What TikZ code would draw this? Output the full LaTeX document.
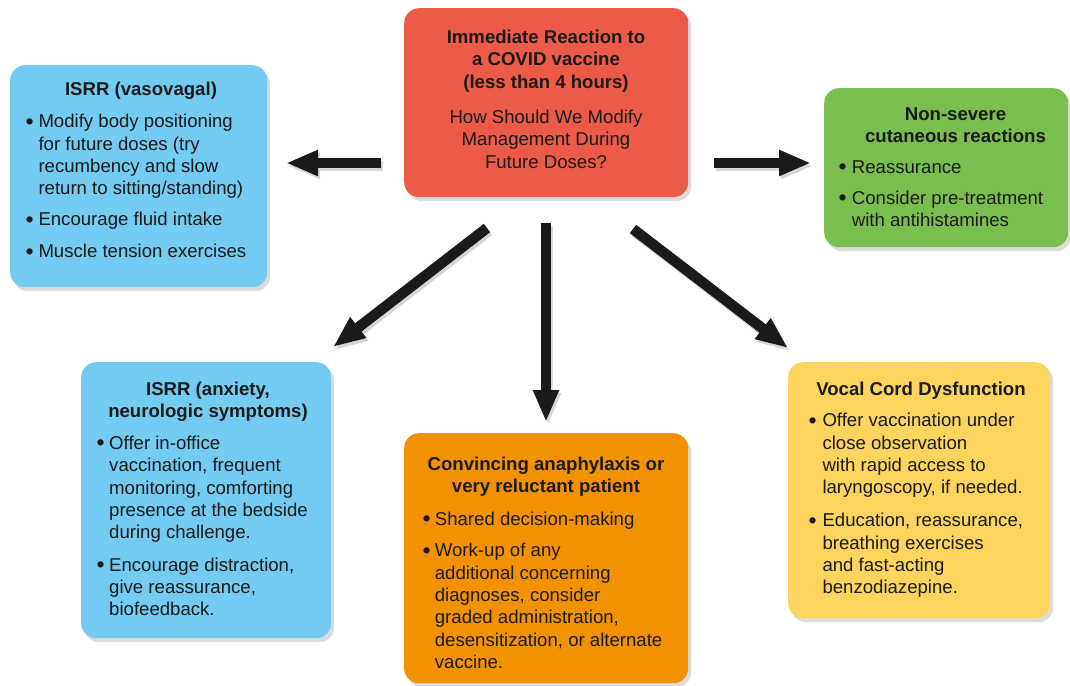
\documentclass[tikz,border=0pt]{standalone}
\usepackage{fontspec}
\setmainfont{Liberation Sans}
\usetikzlibrary{arrows.meta,shadows}
\definecolor{cred}{HTML}{EB5B47}
\definecolor{cblue}{HTML}{74CBF1}
\definecolor{cgreen}{HTML}{7BBE50}
\definecolor{corange}{HTML}{F29200}
\definecolor{cyellow}{HTML}{FDD55E}
\definecolor{ink}{HTML}{1A1A1A}
\newcommand{\fs}{\fontsize{18.6}{22.4}\selectfont}
\newcommand{\bul}{{\fontsize{23}{23}\selectfont\raisebox{-1.6pt}{•}}}
\newcommand{\ctext}[1]{\parbox[t]{300pt}{\centering\fs #1}}
\newcommand{\ltext}[1]{\parbox[t]{300pt}{\raggedright\fs #1}}
\begin{document}
\begin{tikzpicture}[x=1pt,y=-1pt,
  box/.style={rectangle, rounded corners=15pt, anchor=north west, inner sep=0pt, draw=none,
    drop shadow={shadow xshift=3pt,shadow yshift=-4pt,opacity=.28}},
  ttl/.style={anchor=base, inner sep=0pt, text=ink, font=\bfseries},
  ctr/.style={anchor=base, inner sep=0pt, text=ink},
  txt/.style={anchor=base west, inner sep=0pt, text=ink},
  bigarrow/.style={line width=10.5pt, draw=ink, -{Triangle[length=32pt,width=24pt]}},
  arrowsh/.style={line width=10.5pt, draw=black!16, -{Triangle[length=32pt,width=24pt]}}]
\useasboundingbox (0,0) rectangle (1070,685);

% boxes
\node[box, fill=cred, minimum width=284pt, minimum height=189pt] (react) at (404,8) {};
\node[box, fill=cblue, minimum width=257pt, minimum height=222pt] (vaso) at (10,65) {};
\node[box, fill=cgreen, minimum width=244pt, minimum height=159pt] (cut) at (824,88) {};
\node[box, fill=cblue, minimum width=250pt, minimum height=276pt] (anx) at (81,362) {};
\node[box, fill=corange, minimum width=284pt, minimum height=250pt] (ana) at (404,433) {};
\node[box, fill=cyellow, minimum width=262pt, minimum height=256pt] (vcd) at (788,362) {};

% center box text
\node[ttl] (reactT) at (546,43.3) {\ctext{Immediate Reaction to\\a COVID vaccine\\(less than 4 hours)}};
\node[ctr] (reactQ) at (546,123.3) {\ctext{How Should We Modify\\Management During\\Future Doses?}};

% vasovagal
\node[ttl] (vasoT) at (141,95) {\ctext{ISRR (vasovagal)}};
\node[txt] (vaso1b) at (25.5,127.7) {\bul};
\node[txt] (vaso1t) at (38.3,127.7) {\ltext{Modify body positioning\\for future doses (try\\recumbency and slow\\return to sitting/standing)}};
\node[txt] (vaso2b) at (25.5,225.7) {\bul};
\node[txt] (vaso2t) at (38.3,225.7) {\ltext{Encourage fluid intake}};
\node[txt] (vaso3b) at (25.5,257.7) {\bul};
\node[txt] (vaso3t) at (38.3,257.7) {\ltext{Muscle tension exercises}};

% cutaneous
\node[ttl] (cutT) at (955.5,120) {\ctext{Non-severe\\cutaneous reactions}};
\node[txt] (cut1b) at (838.5,173) {\bul};
\node[txt] (cut1t) at (851.7,173) {\ltext{Reassurance}};
\node[txt] (cut2b) at (838.5,204) {\bul};
\node[txt] (cut2t) at (851.7,204) {\ltext{Consider pre-treatment\\with antihistamines}};

% anxiety
\node[ttl] (anxT) at (208,395) {\ctext{ISRR (anxiety,\\neurologic symptoms)}};
\node[txt] (anx1b) at (96.5,449.3) {\bul};
\node[txt] (anx1t) at (109,449.3) {\ltext{Offer in-office\\vaccination, frequent\\monitoring, comforting\\presence at the bedside\\during challenge.}};
\node[txt] (anx2b) at (96.5,571) {\bul};
\node[txt] (anx2t) at (109,571) {\ltext{Encourage distraction,\\give reassurance,\\biofeedback.}};

% anaphylaxis
\node[ttl] (anaT) at (546,470) {\ctext{Convincing anaphylaxis or\\very reluctant patient}};
\node[txt] (ana1b) at (422.5,525) {\bul};
\node[txt] (ana1t) at (434.7,525) {\ltext{Shared decision-making}};
\node[txt] (ana2b) at (422.5,556.7) {\bul};
\node[txt] (ana2t) at (434.7,556.7) {\ltext{Work-up of any\\additional concerning\\diagnoses, consider\\graded administration,\\desensitization, or alternate\\vaccine.}};

% vocal cord
\node[ttl] (vcdT) at (921,395) {\ctext{Vocal Cord Dysfunction}};
\node[txt] (vcd1b) at (808.5,426.7) {\bul};
\node[txt] (vcd1t) at (822.3,426.7) {\ltext{Offer vaccination under\\close observation\\with rapid access to\\laryngoscopy, if needed.}};
\node[txt] (vcd2b) at (808.5,526.7) {\bul};
\node[txt] (vcd2t) at (822.3,526.7) {\ltext{Education, reassurance,\\breathing exercises\\and fast-acting\\benzodiazepine.}};

% arrows
\coordinate (aLs) at (381,163); \coordinate (aLe) at (286,163);
\coordinate (aRs) at (714,163); \coordinate (aRe) at (811,163);
\coordinate (aDLs) at (487,228); \coordinate (aDLe) at (333,347);
\coordinate (aDs) at (546,223); \coordinate (aDe) at (546,422);
\coordinate (aDRs) at (633,229); \coordinate (aDRe) at (788,348);
\foreach \s/\e in {aLs/aLe,aRs/aRe,aDLs/aDLe,aDs/aDe,aDRs/aDRe}{
  \draw[arrowsh] ([shift={(2,3)}]\s) -- ([shift={(2,3)}]\e);
}
\draw[bigarrow] (aLs) -- (aLe);
\draw[bigarrow] (aRs) -- (aRe);
\draw[bigarrow] (aDLs) -- (aDLe);
\draw[bigarrow] (aDs) -- (aDe);
\draw[bigarrow] (aDRs) -- (aDRe);
\end{tikzpicture}
\end{document}
